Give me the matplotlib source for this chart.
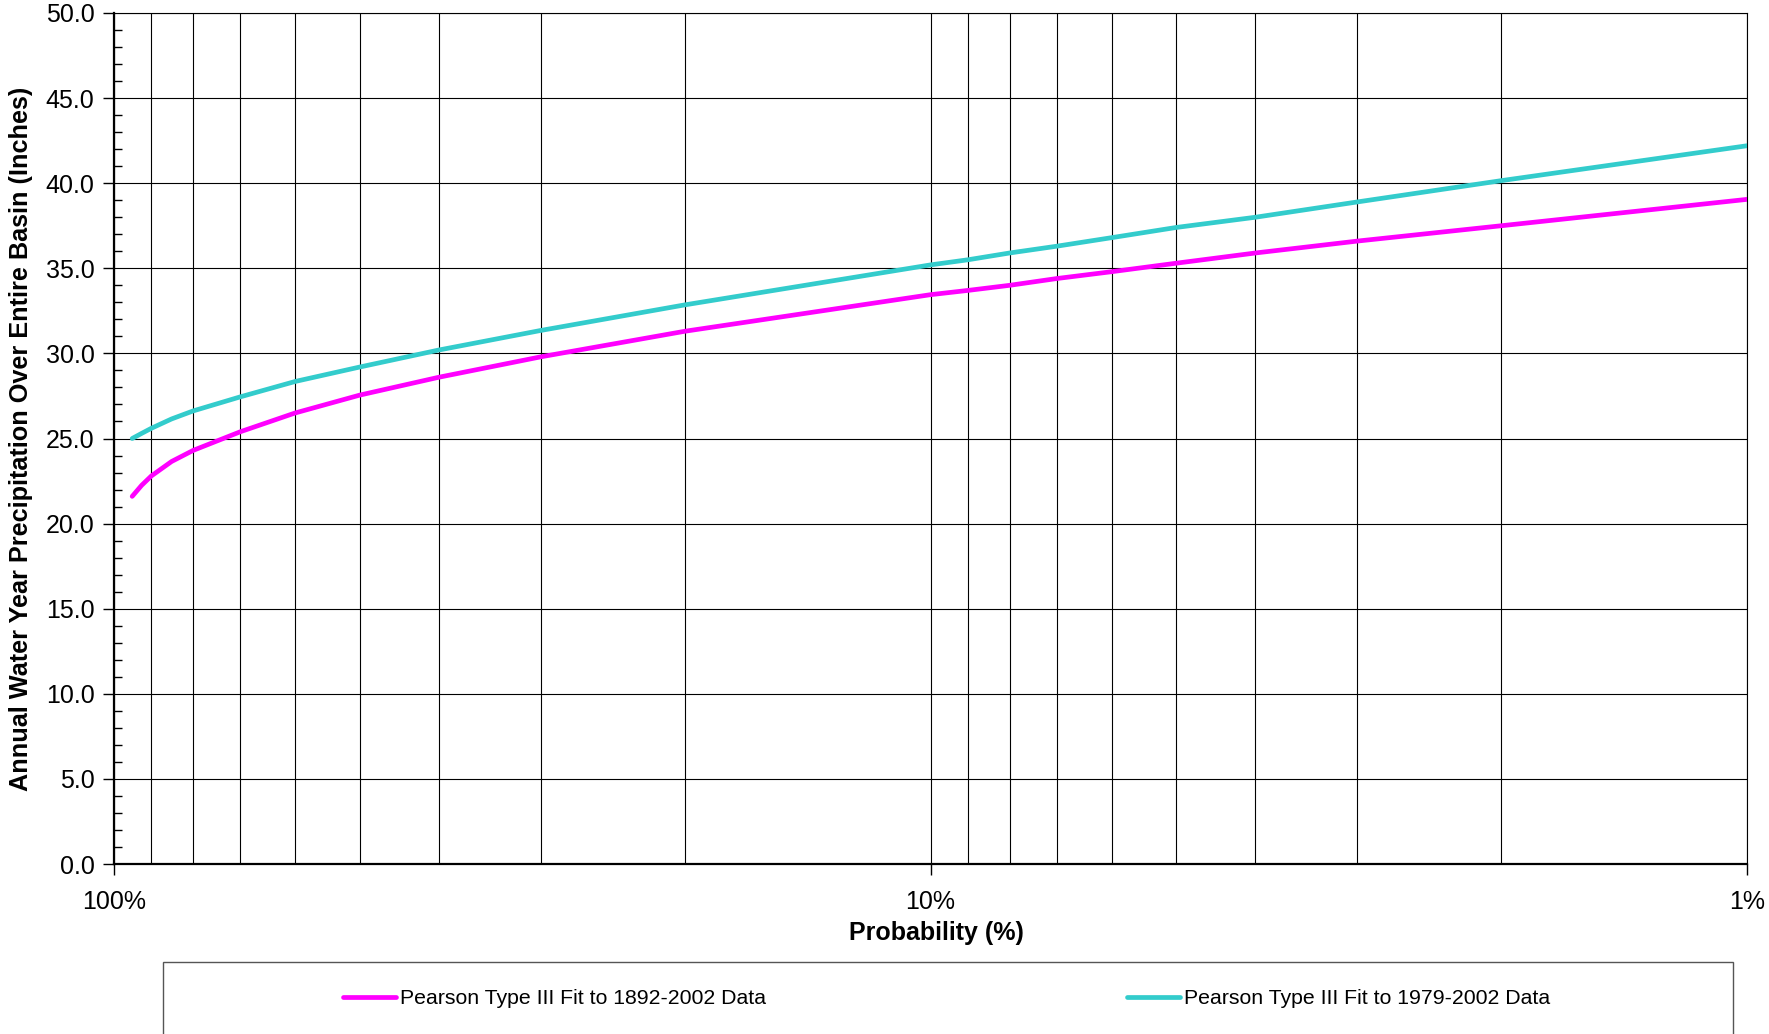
import numpy as np
import matplotlib.pyplot as plt
from matplotlib.ticker import MultipleLocator, FixedLocator, LogLocator, NullFormatter, FormatStrFormatter
from matplotlib.lines import Line2D
from matplotlib.patches import Rectangle

plt.rcParams['font.family'] = ['Liberation Sans', 'DejaVu Sans']

# exceedance probability (%) and fitted annual precipitation (inches)
prob = [95, 92.5, 90, 85, 80, 70, 60, 50, 40, 30, 20, 10, 9, 8, 7, 6, 5, 4, 3, 2, 1]
fit_1892_2002 = [21.6, 22.25, 22.8, 23.65, 24.3, 25.4, 26.5, 27.55, 28.6, 29.8, 31.3,
                 33.45, 33.7, 34.0, 34.4, 34.8, 35.3, 35.9, 36.6, 37.5, 39.05]
fit_1979_2002 = [25.0, 25.3, 25.6, 26.15, 26.62, 27.45, 28.35, 29.2, 30.2, 31.35, 32.85,
                 35.2, 35.5, 35.9, 36.3, 36.8, 37.4, 38.0, 38.9, 40.15, 42.2]

labels = ['Pearson Type III Fit to 1892-2002 Data', 'Pearson Type III Fit to 1979-2002 Data']
colors = ['#FF00FF', '#33CCCC']
x_major = [100, 10, 1]
x_major_labels = ['100%', '10%', '1%']

fig = plt.figure(figsize=(17.69, 10.34), dpi=100)
ax = fig.add_axes([114 / 1769, 1 - 864 / 1034, (1747 - 114) / 1769, (864 - 13) / 1034])

ax.plot(prob, fit_1892_2002, color=colors[0], lw=3.4, solid_capstyle='round', zorder=3)
ax.plot(prob, fit_1979_2002, color=colors[1], lw=3.4, solid_capstyle='round', zorder=3)

# reversed log probability axis
ax.set_xscale('log')
ax.set_xlim(100, 1)
ax.xaxis.set_major_locator(FixedLocator(x_major))
ax.set_xticklabels(x_major_labels)
ax.xaxis.set_minor_locator(LogLocator(base=10, subs=range(2, 10)))
ax.xaxis.set_minor_formatter(NullFormatter())
ax.tick_params(axis='x', which='major', direction='out', length=8, width=1, pad=11, labelsize=18)
ax.tick_params(axis='x', which='minor', length=0)

ax.set_ylim(0, 50)
ax.yaxis.set_major_locator(MultipleLocator(5))
ax.yaxis.set_minor_locator(MultipleLocator(1))
ax.yaxis.set_major_formatter(FormatStrFormatter('%.1f'))
ax.tick_params(axis='y', which='major', direction='out', length=8, width=1, pad=6, labelsize=18)
ax.tick_params(axis='y', which='minor', direction='in', length=6, width=1)

ax.grid(True, axis='x', which='both', color='black', lw=0.8)
ax.grid(True, axis='y', which='major', color='black', lw=0.8)
ax.set_axisbelow(True)
for side in ['left', 'bottom']:
    ax.spines[side].set_linewidth(1.6)
for side in ['top', 'right']:
    ax.spines[side].set_linewidth(0.8)

ax.set_xlabel('Probability (%)', fontsize=18, fontweight='bold', labelpad=5)
ax.xaxis.label.set_x(0.5035)
ax.set_ylabel('Annual Water Year Precipitation Over Entire Basin (Inches)',
              fontsize=18.2, fontweight='bold', labelpad=9)

# legend box, cut off by the bottom of the figure
fig.add_artist(Rectangle((163 / 1769, -0.05), (1733 - 163) / 1769, 0.05 + 1 - 962 / 1034,
                         transform=fig.transFigure, fill=False, edgecolor='#555555', lw=1))
for lab, col, x0 in zip(labels, colors, [343, 1127]):
    h = Line2D([], [], color=col, lw=3.4, solid_capstyle='round')
    fig.legend([h], [lab], loc='center left', bbox_to_anchor=(x0 / 1769, 1 - 999 / 1034),
               frameon=False, fontsize=15.3, borderpad=0, borderaxespad=0,
               handlelength=2.5, handletextpad=0.2)

fig.savefig('out.png', dpi=100)
